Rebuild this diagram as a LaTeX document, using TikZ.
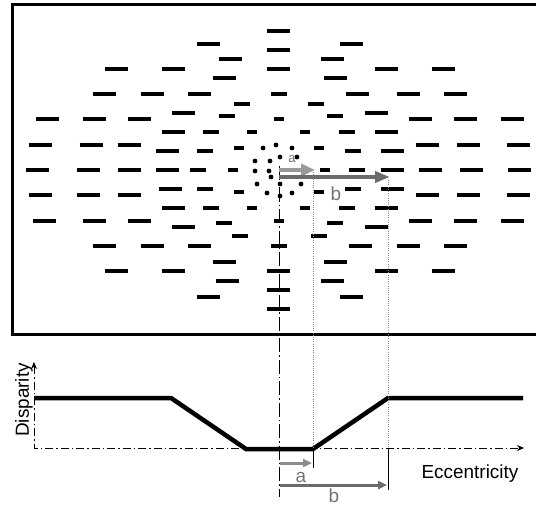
\documentclass[tikz,border=0pt]{standalone}
\usepackage{fontspec}
\setmainfont{Liberation Sans}
\usetikzlibrary{arrows.meta}
\usetikzlibrary{positioning}

\begin{document}
\begin{tikzpicture}[x=1bp,y=-1bp,
    long bar/.style={line width=3.6bp},
    dot node/.style={circle,fill=black,inner sep=0pt,minimum size=4.8bp},
    dashdot/.style={line width=1bp,dash pattern=on 8bp off 3bp on 1.5bp off 3bp},
    guide/.style={black!45,line width=0.7bp,dash pattern=on 1bp off 1.2bp},
    curve/.style={line width=4.5bp},
    tick/.style={line width=1bp},
    label node/.style={text=black!55,inner sep=0pt,font=\fontsize{19}{20}\selectfont},
    axis node/.style={inner sep=0pt,font=\fontsize{19}{20}\selectfont}]
   \useasboundingbox (0,0) rectangle (536,508);
   % the stimulus
   \draw[line width=3bp] (12.5,5) rectangle (540,334);
   \foreach \x/\y in {278/31,208/44,351/44,278/50,230/59,332/59,116/69,173/69,278/69,386/69,443/69,
       224/78,335/78,104/94,152/94,199/94,357/94,408/94,455/94,183/113,376/113,
       47/119,94/119,139/119,420/119,465/119,512/119,173/132,386/132,
       40/145,91/145,129/145,167/151,392/151,427/145,468/145,518/145,
       37/170,88/170,129/170,167/170,392/170,430/170,471/170,519/170,
       40/195,88/195,129/195,170/189,392/189,427/195,468/195,518/195,173/208,386/208,
       44/221,94/221,139/221,420/221,465/221,512/221,183/227,376/227,
       104/246,152/246,199/246,360/246,408/246,455/246,224/262,335/262,
       116/271,173/271,278/271,386/271,443/271,227/281,332/281,278/290,208/297,351/297,278/309}
     \draw[long bar] (\x-11.5,\y) -- (\x+11.5,\y);
   \foreach \x/\y in {279/94,242/104,316/104,227/116,335/116,211/132,347/132,205/151,353/151,
       198/170,357/170,205/189,353/189,211/208,347/208,224/223,335/223,240/236,319/236,279/246}
     \draw[long bar] (\x-8,\y) -- (\x+8,\y);
   \foreach \x/\y in {279/119,252/132,305/132,239/148,319/148,233/170,325/170,
       239/192,319/192,252/208,305/208,279/221}
     \draw[long bar] (\x-5,\y) -- (\x+5,\y);
   \foreach \x/\y [count=\i] in {263/148,276/145,292/148,255/161,270/161,280/157,297/157,
       255/171,269/171,271/177,257/184,280/184,301/184,267/193,280/196,292/193}
     \node[dot node] (d\i) at (\x,\y) {};
   % fixation and the two eccentricities
   \coordinate (fix) at (279,166);
   \coordinate (fixa) at (279,170);
   \coordinate (fixb) at (279,177);
   \coordinate (ea) at (315,170);
   \coordinate (eb) at (390,177);
   \coordinate (bottom) at (279,497);
   \draw[dashdot,dash pattern=on 14bp off 3bp on 1.5bp off 3bp] (fix) -- (bottom);
   \draw[black!40,line width=4.5bp,-{Triangle[length=14bp,width=12bp]}] (fixa) -- (ea);
   \draw[black!58,line width=4bp,-{Triangle[length=15bp,width=11bp]}] (fixb) -- (eb);
   \node[label node,font=\fontsize{13}{14}\selectfont] (la) at (292,159) {a};
   \node[label node] (lb) at (336,194) {b};
   % the disparity profile
   \coordinate (o) at (34,448);
   \coordinate (ytop) at (34,362);
   \coordinate (xend) at (524,448);
   \coordinate (p1) at (34,398);
   \coordinate (p2) at (171,398);
   \coordinate (p3) at (246,449);
   \coordinate (p4) at (313,449);
   \coordinate (p5) at (388,398);
   \coordinate (p6) at (523,398);
   \draw[dashdot,{Stealth[length=7bp,width=6bp]}-{Stealth[length=7bp,width=6bp]}] (ytop) -- (o) -- (xend);
   \draw[curve] (p1) -- (p2) -- (p3) -- (p4) -- (p5) -- (p6);
   \node[axis node,rotate=90] (dispar) at (24,400) {Disparity};
   \node[axis node] (eccen) at (470,474) {Eccentricity};
   % projections down to the axis
   \coordinate (ta) at (313,172);
   \coordinate (tb) at (388,180);
   \coordinate (ka) at (313,448);
   \coordinate (kb) at (388,448);
   \coordinate (ka2) at (313,468);
   \coordinate (kb2) at (388,490);
   \draw[guide] (ta) -- (ka);
   \draw[guide] (tb) -- (kb);
   \draw[tick] (ka) -- (ka2);
   \draw[tick] (kb) -- (kb2);
   \coordinate (sa) at (280,463);
   \coordinate (sa2) at (312,463);
   \coordinate (sb) at (280,485);
   \coordinate (sb2) at (387,485);
   \draw[black!45,line width=3bp,-{Triangle[length=9bp,width=8bp]}] (sa) -- (sa2);
   \draw[black!58,line width=3bp,-{Triangle[length=9bp,width=8bp]}] (sb) -- (sb2);
   \node[label node] (la2) at (301,477) {a};
   \node[label node] (lb2) at (334,496) {b};
\end{tikzpicture}
\end{document}
